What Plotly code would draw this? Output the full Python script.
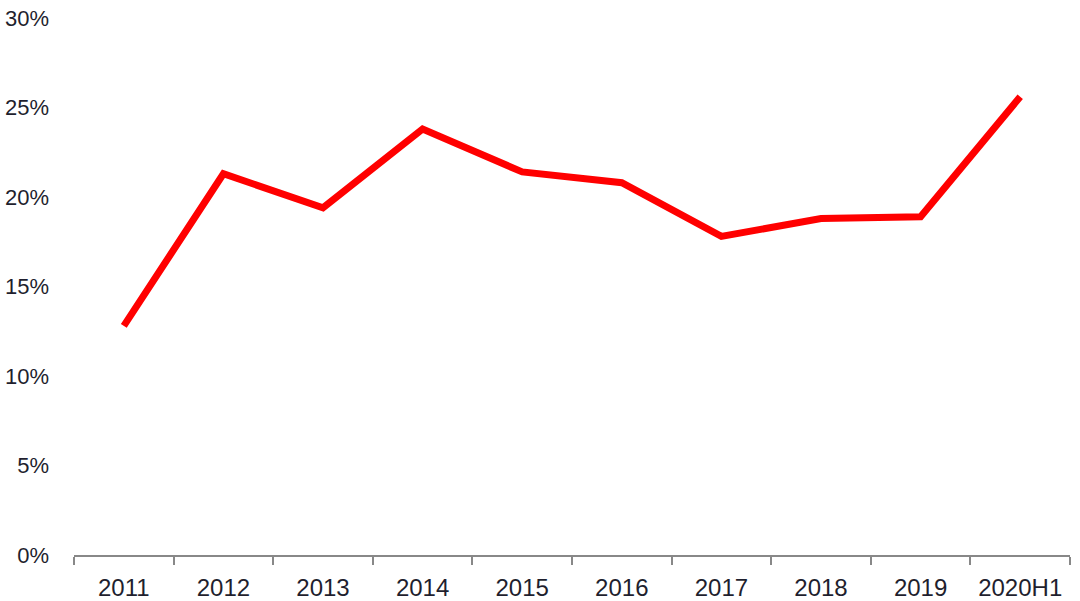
import plotly.graph_objects as go

categories = ["2011", "2012", "2013", "2014", "2015", "2016", "2017", "2018", "2019", "2020H1"]
values = [12.8, 21.3, 19.4, 23.8, 21.4, 20.8, 17.8, 18.8, 18.9, 25.6]
y_ticks = [0, 5, 10, 15, 20, 25, 30]
y_tick_labels = [f"{v}%" for v in y_ticks]

fig = go.Figure()
fig.add_trace(go.Scatter(
    x=categories, y=values, mode="lines",
    line=dict(color="#FF0000", width=7),
    hoverinfo="skip",
))

xfont = dict(family="Arial, Liberation Sans, sans-serif", size=24, color="#1f1f2e")
yfont = dict(family="Arial, Liberation Sans, sans-serif", size=22, color="#1f1f2e")

fig.update_layout(
    width=1080, height=601,
    margin=dict(l=74, r=10, t=18, b=46),
    paper_bgcolor="white", plot_bgcolor="white",
    showlegend=False,
    xaxis=dict(
        type="category", range=[-0.5, 9.5], automargin=False,
        showline=True, linecolor="#888888", linewidth=2,
        ticks="outside", tickson="boundaries", ticklen=8, tickcolor="#888888", tickwidth=2,
        showgrid=False, zeroline=False,
        tickfont=xfont, ticklabelstandoff=10,
    ),
    yaxis=dict(
        range=[0, 30], tickvals=y_ticks, ticktext=y_tick_labels, automargin=False,
        showline=False, showgrid=False, zeroline=False,
        ticks="", tickfont=yfont, ticklabelstandoff=24,
    ),
)

fig.write_html("out.html", config={"displayModeBar": False},
               post_script="document.body.style.margin='0';")
